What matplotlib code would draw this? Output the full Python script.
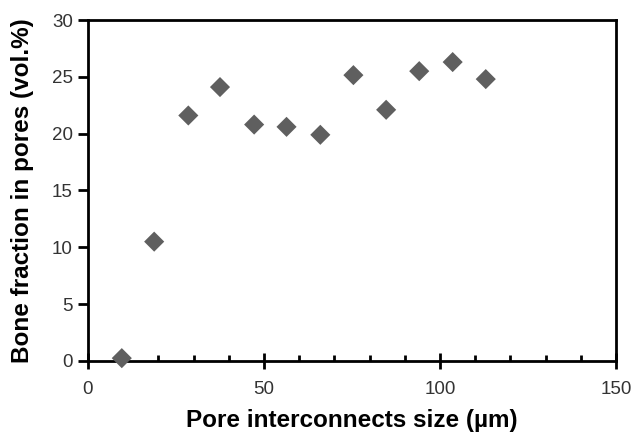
import matplotlib
matplotlib.use("Agg")
import matplotlib.pyplot as plt
from matplotlib.ticker import MultipleLocator

plt.rcParams['font.family'] = ['Liberation Sans', 'DejaVu Sans']

# pore interconnect size (um) vs bone fraction (vol.%)
pore_size = [9.6, 18.8, 28.5, 37.5, 47.2, 56.4, 66.0, 75.4, 84.7, 94.1, 103.6, 113.0]
bone_frac = [0.25, 10.5, 21.6, 24.1, 20.8, 20.6, 19.9, 25.15, 22.1, 25.5, 26.3, 24.8]

fig = plt.figure(figsize=(6.34, 4.33), dpi=100)
ax = fig.add_axes([0.1388, 0.1663, 0.8328, 0.7875])

ax.scatter(pore_size, bone_frac, marker='D', s=105, color='#5f5f5f', edgecolors='none',
           zorder=3, clip_on=False)

ax.set_xlim(0, 150)
ax.set_ylim(0, 30)
ax.xaxis.set_major_locator(MultipleLocator(50))
ax.xaxis.set_minor_locator(MultipleLocator(10))
ax.yaxis.set_major_locator(MultipleLocator(5))

for s in ax.spines.values():
    s.set_linewidth(2.0)
    s.set_color('black')

ax.tick_params(axis='x', which='major', direction='inout', length=11, width=2.0,
               labelsize=13.5, labelcolor='#333333', pad=9)
ax.tick_params(axis='x', which='minor', direction='in', length=4.5, width=2.0)
ax.tick_params(axis='y', which='major', direction='out', length=7, width=2.0,
               labelsize=13.5, labelcolor='#333333', pad=4)

ax.set_xlabel('Pore interconnects size (µm)', fontsize=17.5, fontweight='bold', labelpad=8)
ax.set_ylabel('Bone fraction in pores (vol.%)', fontsize=17.5, fontweight='bold', labelpad=13)

fig.savefig('out.png', dpi=100)
